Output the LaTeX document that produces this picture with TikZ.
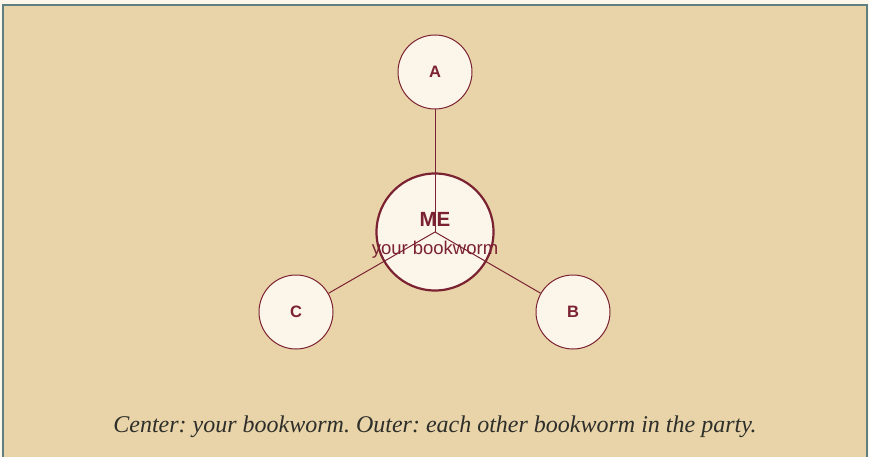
\documentclass[tikz,border=0pt]{standalone}
\usepackage{fontspec}
\setmainfont{Liberation Serif}
\setsansfont{Liberation Sans}
\definecolor{pagebg}{HTML}{FDF6EA}
\definecolor{panel}{HTML}{E8D4A8}
\definecolor{frame}{HTML}{5F7F80}
\definecolor{maroon}{HTML}{7B2232}
\definecolor{nodefill}{HTML}{FCF5E9}
\definecolor{captxt}{HTML}{2E2E2A}
\begin{document}
\frenchspacing
\begin{tikzpicture}[x=1pt,y=-1pt,
  outer/.style={circle,draw=maroon,line width=1pt,fill=nodefill,minimum size=74pt,inner sep=0pt,
    text=maroon,font=\sffamily\bfseries\fontsize{16.5}{16.5}\selectfont},
  centre/.style={circle,draw=maroon,line width=2.2pt,fill=nodefill,minimum size=117pt,inner sep=0pt},
  link/.style={draw=maroon,line width=1pt}]
\useasboundingbox (0,0) rectangle (869,457);
\fill[pagebg] (0,0) rectangle (869,457);
\filldraw[fill=panel,draw=frame,line width=2pt] (2.5,5.5) rectangle (866.5,470);
\node[centre] (me) at (435,232) {};
\node[outer] (a) at (435,72) {A};
\node[outer] (b) at (573,312) {B};
\node[outer] (c) at (296,312) {C};
\draw[link] (me.center) -- (a);
\draw[link] (me.center) -- (b);
\draw[link] (me.center) -- (c);
\node[text=maroon,font=\sffamily\bfseries\fontsize{20.5}{20.5}\selectfont,anchor=base] (metitle) at (435,226) {ME};
\node[text=maroon,font=\sffamily\fontsize{18.5}{18.5}\selectfont,anchor=base] (mesub) at (435,254) {your bookworm};
\node[text=captxt,font=\itshape\fontsize{24}{24}\selectfont,anchor=base] (cap) at (435,432) {Center: your bookworm. Outer: each other bookworm in the party.};
\end{tikzpicture}
\end{document}
